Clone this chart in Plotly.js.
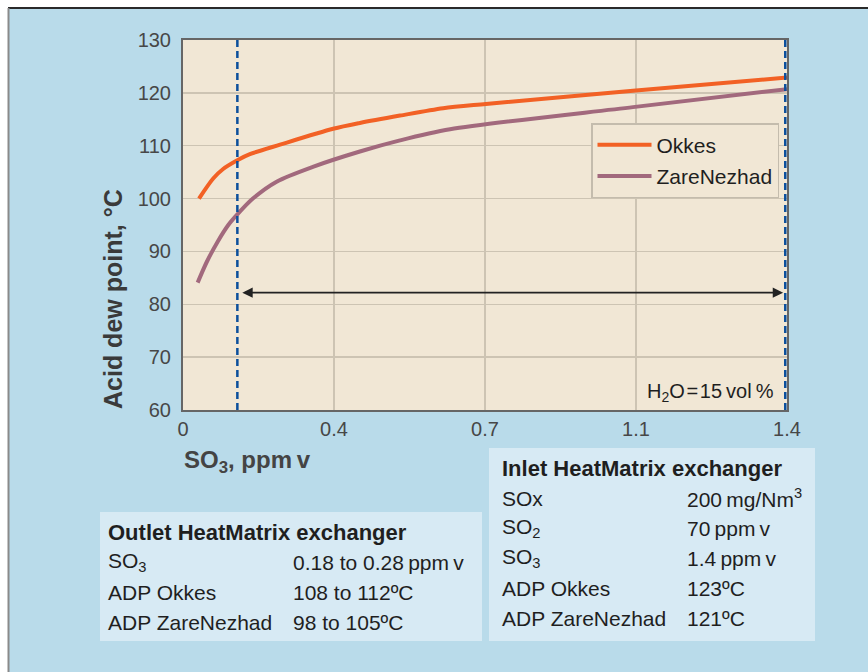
<!DOCTYPE html>
<html>
<head>
<meta charset="utf-8">
<script src="https://cdn.plot.ly/plotly-3.0.1.min.js"></script>
<style>
  html, body { margin: 0; padding: 0; background: #ffffff; }
  #chart { width: 868px; height: 672px; }
</style>
</head>
<body>
<div id="chart"></div>
<script>
// ---- Data ----
const okkesX = [0.037, 0.070, 0.093, 0.127, 0.155, 0.225, 0.348, 0.410, 0.503, 0.603, 0.702, 1.043, 1.400];
const okkesY = [100.0, 103.8, 105.6, 107.3, 108.4, 110.2, 113.2, 114.3, 115.7, 117.1, 117.9, 120.4, 122.9];

const zareX = [0.034, 0.055, 0.080, 0.105, 0.127, 0.162, 0.217, 0.301, 0.410, 0.503, 0.619, 1.043, 1.400];
const zareY = [84.1, 88.0, 91.8, 95.0, 97.1, 100.0, 103.2, 106.0, 108.9, 111.0, 113.1, 117.3, 120.7];

const seriesNames = ['Okkes', 'ZareNezhad'];

const xTickVals = [0, 0.35, 0.7, 1.05, 1.4];
const xTickText = ['0', '0.4', '0.7', '1.1', '1.4'];
const yTickVals = [60, 70, 80, 90, 100, 110, 120, 130];

const markerLinesX = [0.126, 1.396];      // dashed vertical reference lines (SO3, ppmv)
const arrowSpan = [0.134, 1.391];         // double arrow extent
const arrowLevel = 82.2;                  // arrow height (°C)

const noteText = 'H<sub>2</sub>O\u200a=\u200a15\u2009vol\u2009%';
const yTitleText = 'Acid dew point, °C';
const xTitleText = 'SO<sub>3</sub>, ppm\u2009v';

const outletTitle = 'Outlet HeatMatrix exchanger';
const outletLabels = ['SO<sub>3</sub>', 'ADP Okkes', 'ADP ZareNezhad'];
const outletValues = ['0.18 to 0.28\u2009ppm\u2009v', '108 to 112ºC', '98 to 105ºC'];

const inletTitle = 'Inlet HeatMatrix exchanger';
const inletLabels = ['SOx', 'SO<sub>2</sub>', 'SO<sub>3</sub>', 'ADP Okkes', 'ADP ZareNezhad'];
const inletValues = ['200\u2009mg/Nm<sup>3</sup>', '70\u2009ppm\u2009v', '1.4\u2009ppm\u2009v', '123ºC', '121ºC'];

// ---- Layout helpers (pixel -> paper) ----
const W = 868, H = 672;
const M = { l: 183, r: 81, t: 40, b: 262 };
const PW = W - M.l - M.r, PH = H - M.t - M.b;
const px = v => (v - M.l) / PW;
const py = v => (H - M.b - v) / PH;

const FONT = 'Liberation Sans, Arial, Helvetica, sans-serif';
const COL = {
  bg: '#b9dbea', plot: '#f1e7d5', grid: '#cdc4b3', table: '#d7eaf4',
  okkes: '#f26125', zare: '#a2697d', dash: '#0b4f9c', text: '#1f1f1f', tick: '#474747'
};

const traces = [
  { x: okkesX, y: okkesY, name: seriesNames[0], type: 'scatter', mode: 'lines',
    line: { color: COL.okkes, width: 4, shape: 'spline', smoothing: 0.8 }, legendgroup: 'a' },
  { x: zareX, y: zareY, name: seriesNames[1], type: 'scatter', mode: 'lines',
    line: { color: COL.zare, width: 4, shape: 'spline', smoothing: 0.8 }, legendgroup: 'b' }
];

const shapes = [
  { type: 'rect', xref: 'paper', yref: 'paper', x0: px(8), x1: px(W + 2), y0: py(H + 2), y1: py(8),
    fillcolor: COL.bg, line: { width: 0 }, layer: 'below' },
  { type: 'line', xref: 'paper', yref: 'paper', x0: px(8), x1: px(W + 2), y0: py(8), y1: py(8),
    line: { color: '#2a2a2a', width: 2 }, layer: 'below' },
  { type: 'line', xref: 'paper', yref: 'paper', x0: px(8.5), x1: px(8.5), y0: py(8), y1: py(H + 2),
    line: { color: '#8a8a8a', width: 2 }, layer: 'below' },
  { type: 'rect', xref: 'paper', yref: 'paper', x0: 0, x1: 1, y0: 0, y1: 1,
    fillcolor: COL.plot, line: { width: 0 }, layer: 'below' },
  { type: 'rect', xref: 'paper', yref: 'paper', x0: px(100), x1: px(482), y0: py(641), y1: py(512),
    fillcolor: COL.table, line: { width: 0 }, layer: 'below' },
  { type: 'rect', xref: 'paper', yref: 'paper', x0: px(489), x1: px(815), y0: py(641), y1: py(448),
    fillcolor: COL.table, line: { width: 0 }, layer: 'below' }
];
markerLinesX.forEach(xv => shapes.push({
  type: 'line', xref: 'x', yref: 'paper', x0: xv, x1: xv, y0: 0, y1: 1,
  line: { color: COL.dash, width: 2.5, dash: '7px,4px' }, layer: 'above'
}));

const annotations = [
  { xref: 'x', yref: 'y', x: arrowSpan[1], y: arrowLevel, ax: arrowSpan[0], ay: arrowLevel,
    axref: 'x', ayref: 'y', text: '', showarrow: true, arrowside: 'end+start',
    arrowhead: 2, arrowsize: 1.3, arrowwidth: 1.6, arrowcolor: '#222222' },
  { xref: 'paper', yref: 'paper', x: px(776), y: py(392), xanchor: 'right', yanchor: 'middle',
    text: noteText, showarrow: false, font: { family: FONT, size: 20, color: COL.text } },
  { xref: 'paper', yref: 'paper', x: px(113), y: py(299), xanchor: 'center', yanchor: 'middle',
    textangle: -90, text: '<b>' + yTitleText + '</b>', showarrow: false,
    font: { family: FONT, size: 25, color: '#3a3a3a' } },
  { xref: 'paper', yref: 'paper', x: px(182), y: py(462), xanchor: 'left', yanchor: 'middle',
    text: '<b>' + xTitleText + '</b>', showarrow: false,
    font: { family: FONT, size: 24, color: '#444444' } }
];

function addTable(title, labels, values, x1, x2, yTop, step) {
  const f = { family: FONT, size: 21, color: COL.text };
  const fb = { family: FONT, size: 22, color: COL.text };
  annotations.push({ xref: 'paper', yref: 'paper', x: px(x1), y: py(yTop), xanchor: 'left', yanchor: 'middle',
    text: '<b>' + title + '</b>', showarrow: false, font: fb });
  labels.forEach((lab, i) => {
    const yy = yTop + step * (i + 1);
    annotations.push({ xref: 'paper', yref: 'paper', x: px(x1), y: py(yy), xanchor: 'left', yanchor: 'middle',
      text: lab, showarrow: false, font: f });
    annotations.push({ xref: 'paper', yref: 'paper', x: px(x2), y: py(yy), xanchor: 'left', yanchor: 'middle',
      text: values[i], showarrow: false, font: f });
  });
}
addTable(outletTitle, outletLabels, outletValues, 106, 291, 532, 30);
addTable(inletTitle, inletLabels, inletValues, 500, 685, 468, 30);

const layout = {
  width: W, height: H, autosize: false,
  margin: M,
  paper_bgcolor: '#ffffff',
  plot_bgcolor: 'rgba(0,0,0,0)',
  font: { family: FONT, color: COL.tick },
  showlegend: true,
  legend: {
    x: px(591), y: py(123), xanchor: 'left', yanchor: 'top',
    bgcolor: COL.plot, bordercolor: '#c4bcad', borderwidth: 1.5,
    font: { family: FONT, size: 21, color: COL.text },
    itemwidth: 54, traceorder: 'grouped', tracegroupgap: 1
  },
  xaxis: {
    range: [0, 1.4], tickmode: 'array', tickvals: xTickVals, ticktext: xTickText,
    showgrid: true, gridcolor: COL.grid, gridwidth: 1.5, zeroline: false,
    showline: true, mirror: true, linecolor: '#666666', linewidth: 2,
    ticks: '', tickfont: { family: FONT, size: 20, color: COL.tick }, fixedrange: true
  },
  yaxis: {
    range: [60, 130], tickmode: 'array', tickvals: yTickVals,
    showgrid: true, gridcolor: COL.grid, gridwidth: 1.5, zeroline: false,
    showline: true, mirror: true, linecolor: '#666666', linewidth: 2,
    ticks: '', ticklabelstandoff: 6, tickfont: { family: FONT, size: 20, color: COL.tick }, fixedrange: true
  },
  shapes: shapes,
  annotations: annotations
};

Plotly.newPlot('chart', traces, layout, { displayModeBar: false, staticPlot: true });
</script>
</body>
</html>
